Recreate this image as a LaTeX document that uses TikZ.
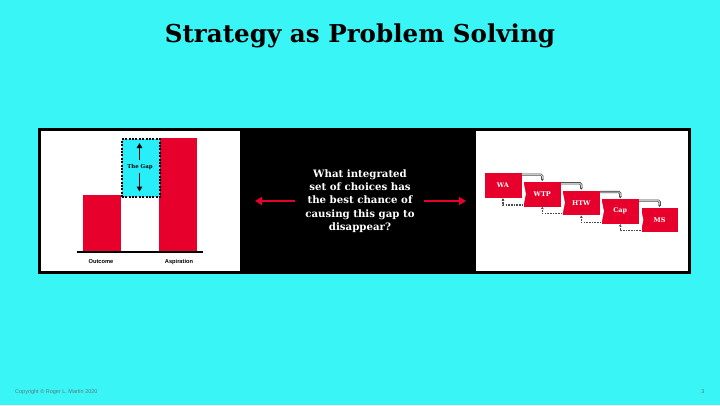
\documentclass[tikz,border=0pt]{standalone}
\usepackage{fontspec}
\setmainfont{DejaVu Serif}
\newfontfamily\labelfont{Liberation Sans}
\usetikzlibrary{arrows.meta,calc}
\definecolor{bgcyan}{RGB}{58,245,245}
\definecolor{gapcyan}{RGB}{40,238,250}
\definecolor{boxred}{RGB}{232,0,44}
\definecolor{footgray}{RGB}{90,120,125}
\tikzset{
  redbar/.style={fill=boxred, draw=none},
  stepnode/.style={rectangle, fill=boxred, draw=white, line width=0.4pt, minimum width=37.5pt, minimum height=25.5pt, inner sep=0pt, text=white, font=\bfseries\fontsize{6.5}{7}\selectfont},
  topconn/.style={draw=black!75, line width=0.6pt, double=gray!45, double distance=1pt, rounded corners=1.5pt, -{Stealth[length=2.2pt,width=2.8pt]}},
  dashconn/.style={draw=black!70, line width=1.3pt, dash pattern=on 1.6pt off 1.1pt, -{Stealth[length=2.4pt,width=3pt]}},
  redarrow/.style={draw=boxred, line width=2.4pt, -{Triangle[length=7pt,width=8pt]}},
  gaparrow/.style={draw=black, line width=1.5pt, -{Triangle[length=5pt,width=5.5pt]}},
  axislabel/.style={font=\labelfont\bfseries\fontsize{5.7}{6}\selectfont, text=black, inner sep=0pt},
}
\begin{document}
\begin{tikzpicture}[x=1pt,y=-1pt]
\useasboundingbox (0,0) rectangle (720,405);
\fill[bgcyan] (0,0) rectangle (720,405);
% title
\node[font=\bfseries\fontsize{24.6}{28}\selectfont, inner sep=0pt] (title) at (360,36) {Strategy as Problem Solving};
% frame
\fill[black] (38,128) rectangle (691,274);
\fill[white] (41,131) rectangle (240,271);
\fill[white] (476,131) rectangle (688,271);
% left panel bars
\fill[redbar] (82.7,195) rectangle (120.7,252);
\fill[redbar] (159.3,137.7) rectangle (197.3,252);
\node[rectangle, fill=gapcyan, draw=black, line width=2pt, dash pattern=on 2pt off 1.4pt, minimum width=38.6pt, minimum height=57.4pt, inner sep=0pt, anchor=north west] (gap) at (120.7,138.3) {};
\node[font=\bfseries\fontsize{5.4}{6}\selectfont, inner sep=0.5pt] (gaptext) at (140,167) {The Gap};
\coordinate (gaptop) at (139.5,143);
\coordinate (gapbot) at (139.5,191.5);
\coordinate (upstart) at (139.5,160);
\coordinate (downstart) at (139.5,173);
\draw[gaparrow] (upstart) -- (gaptop);
\draw[gaparrow] (downstart) -- (gapbot);
\draw[black, line width=2pt] (76.7,252) -- (203.3,252);
\node[axislabel] (outcome) at (101,262) {Outcome};
\node[axislabel] (aspiration) at (179,262) {Aspiration};
% middle
\node[text=white, font=\bfseries\fontsize{10.2}{13.4}\selectfont, align=center, inner sep=0pt] (question) at (360,201) {What integrated\\set of choices has\\the best chance of\\causing this gap to\\disappear?};
\coordinate (ltail) at (295,201);
\coordinate (ltip) at (255,201);
\coordinate (rtail) at (424,201);
\coordinate (rtip) at (466,201);
\draw[redarrow] (ltail) -- (ltip);
\draw[redarrow] (rtail) -- (rtip);
% cascade
\node[stepnode, anchor=north west] (WA) at (484,172.3) {WA};
\node[stepnode, anchor=north west] (WTP) at (523.3,181) {WTP};
\node[stepnode, anchor=north west] (HTW) at (562.3,189.7) {HTW};
\node[stepnode, anchor=north west] (Cap) at (601.3,198.3) {Cap};
\node[stepnode, anchor=north west] (MS) at (640.7,206.9) {MS};
\foreach \b in {WTP,HTW,Cap,MS}{
  \fill[white] (\b.north west) -- ($(\b.west)+(2.6,0)$) -- (\b.south west) -- cycle;
}
\draw[topconn] ($(WA.north east)+(0,2.3)$) -| (WTP.north);
\draw[topconn] ($(WTP.north east)+(0,2.3)$) -| (HTW.north);
\draw[topconn] ($(HTW.north east)+(0,2.3)$) -| (Cap.north);
\draw[topconn] ($(Cap.north east)+(0,2.3)$) -| (MS.north);
\draw[dashconn] ($(WTP.south west)+(0,-2)$) -| (WA.south);
\draw[dashconn] ($(HTW.south west)+(0,-2)$) -| (WTP.south);
\draw[dashconn] ($(Cap.south west)+(0,-2)$) -| (HTW.south);
\draw[dashconn] ($(MS.south west)+(0,-2)$) -| (Cap.south);
% footer
\node[font=\labelfont\fontsize{5.5}{6}\selectfont, text=footgray, anchor=west, inner sep=0pt] (copy) at (15,392) {Copyright © Roger L. Martin 2020};
\node[font=\labelfont\fontsize{5.5}{6}\selectfont, text=footgray, inner sep=0pt] (pagenum) at (703,392) {3};
\end{tikzpicture}
\end{document}
